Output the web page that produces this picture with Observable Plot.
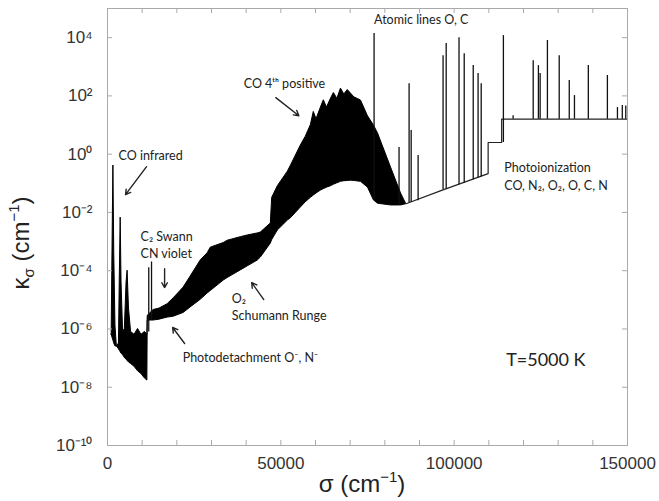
<!DOCTYPE html>
<html><head><meta charset="utf-8">
<script src="https://cdn.jsdelivr.net/npm/d3@7"></script>
<script src="https://cdn.jsdelivr.net/npm/@observablehq/plot@0.6"></script>
<style>body{margin:0;background:#fff}</style>
</head><body><div id="chart"></div>
<script>
// ---- Data. Absorption values given as log10(kappa [cm^-1]) ----
// Dense molecular band region: lower and upper envelopes
const bandSigma = [1200,1450,1700,1950,2300,2700,3300,3550,3800,4050,4500,5000,5500,5800,6200,6800,7800,8800,9800,10800,11500,
  11600,13300,15000,17340,19070,21960,23990,26880,28900,29770,33520,34680,38440,40460,43350,44220,47110,47500,49130,52020,52890,
  55780,57200,58670,59500,60300,61560,62400,63300,64450,65300,66300,67340,68300,69300,70230,71200,73120,75140,76870,78030,81790,84680,86120];
const bandLowExp = [-6.2,-6.3,-6.4,-6.5,-6.6,-6.6,-6.7,-6.75,-6.8,-6.85,-6.9,-7.0,-7.05,-7.1,-7.15,-7.2,-7.3,-7.45,-7.55,-7.7,-7.77,
  -5.71,-5.71,-5.68,-5.61,-5.58,-5.45,-5.26,-5.0,-4.78,-4.7,-4.34,-4.25,-3.99,-3.85,-3.65,-3.55,-3.07,-2.95,-2.62,-2.28,-2.2,
  -1.83,-1.65,-1.5,-1.42,-1.35,-1.25,-1.2,-1.15,-1.1,-1.05,-1.0,-0.95,-0.93,-0.92,-0.91,-0.92,-0.95,-1.15,-1.59,-1.7,-1.76,-1.76,-1.72];
const bandHighExp = [-6.2,-3.2,-0.39,-3.4,-5.9,-6.6,-6.5,-4.2,-2.18,-4.4,-6.1,-6.0,-4.4,-4.0,-5.3,-6.1,-6.2,-6.0,-6.2,-6.1,-6.2,
  -5.55,-5.35,-5.3,-5.15,-4.95,-4.58,-4.2,-3.65,-3.4,-3.21,-3.05,-2.97,-2.85,-2.79,-2.72,-2.69,-2.38,-1.5,-1.1,-0.6,-0.4,
  0.3,0.6,1.0,1.45,1.2,1.6,1.85,1.6,1.9,2.1,1.9,2.25,2.05,2.2,2.08,1.95,1.84,1.3,0.98,0.71,-0.46,-1.35,-1.70];

// Photoionization continuum
const contSigma = [86120,96200,109800,109800,113700,113700,150000];
const contExp   = [-1.70,-1.25,-0.67,0.40,0.40,1.2,1.2];

// Individual lines (atomic O, C lines and a few C2 Swan lines)
const lineSigma   = [11900,12700,76900,84100,87000,87600,89600,96800,97700,101400,102900,105500,106900,107800,114200,117000,
  122800,124300,124800,126900,130300,133200,134700,138700,144200,147100,148500,149500];
const lineBaseExp = [-6.1,-5.7,-1.6,-1.75,-1.68,-1.66,-1.6,-1.22,-1.2,-1.05,-1.0,-0.88,-0.82,-0.78,0.4,1.2,
  1.2,1.2,1.2,1.2,1.2,1.2,1.2,1.2,1.2,1.2,1.2,1.2];
const lineTopExp  = [-3.9,-3.7,4.14,0.23,2.42,0.81,-0.05,3.38,3.80,4.00,3.45,3.04,2.77,2.42,4.07,1.32,
  3.21,3.04,2.77,3.90,3.38,2.53,2.01,3.04,2.70,1.60,1.67,1.65];

// Annotations
const labelText  = ["CO infrared","CO 4ᵗʰ positive","Atomic lines O, C","C₂ Swann","CN violet","O₂","Schumann Runge",
  "Photodetachment O⁻, N⁻","Photoionization","CO, N₂, O₂, O, C, N"];
const labelSigma = [3180,39300,76900,9540,9540,35840,35840,21680,114440,114440];
const labelExp   = [-0.05,2.42,4.62,-2.83,-3.41,-4.96,-5.54,-6.98,-0.46,-1.08];
const tempText = "T=5000 K", tempSigma = 115000, tempExp = -7.08;

const arrowFromSigma = [11270,48550,16470,45080,22250];
const arrowFromExp   = [-0.43,1.94,-3.93,-4.99,-6.5];
const arrowToSigma   = [5200,55200,16470,41600,18790];
const arrowToExp     = [-1.39,1.32,-4.58,-4.41,-5.95];

const xTickValues = [0,50000,100000,150000];
const xMinorTicks = d3.range(0,150001,10000);
const yTickValues = [1e-10,1e-8,1e-6,1e-4,1e-2,1e0,1e2,1e4];

// ---- Build tables ----
const P = e => Math.pow(10,e);
const band = bandSigma.map((s,i)=>({s, lo:P(bandLowExp[i]), hi:P(bandHighExp[i])}));
const cont = contSigma.map((s,i)=>({s, k:P(contExp[i])}));
const lines = lineSigma.map((s,i)=>({s, b:P(lineBaseExp[i]), t:P(lineTopExp[i])}));
const labels = labelText.map((t,i)=>({t, s:labelSigma[i], k:P(labelExp[i])}));
const arrows = arrowFromSigma.map((s,i)=>({x1:s, y1:P(arrowFromExp[i]), x2:arrowToSigma[i], y2:P(arrowToExp[i])}));

const supMap = {"-":"⁻","0":"⁰","1":"¹","2":"²","3":"³","4":"⁴","5":"⁵","6":"⁶","7":"⁷","8":"⁸","9":"⁹"};
const sup = d => "10" + String(Math.round(Math.log10(d))).split("").map(c=>supMap[c]).join("");

const W = 659, H = 501, mL = 107, mR = 32, mT = 8, mB = 56;
const pw = W-mL-mR, ph = H-mT-mB;
const frameColor = "#aaa";
const annFont = "Lato, 'Open Sans', sans-serif";

const svg = Plot.plot({
  width: W, height: H,
  marginLeft: mL, marginRight: mR, marginTop: mT, marginBottom: mB,
  style: {fontFamily: "'Liberation Sans', Arial, sans-serif", fontSize: "17px", color: "#333", background: "#fff"},
  x: {domain: [0,150000], ticks: xTickValues, tickSize: 0, tickPadding: 11, tickFormat: d => String(d), label: null},
  y: {type: "log", domain: [1e-10,1e5], ticks: yTickValues, tickSize: 0, tickPadding: 15, tickFormat: sup, label: null},
  marks: [
    Plot.areaY(band, {x:"s", y1:"lo", y2:"hi", fill:"#000", stroke:"#000", strokeWidth:1, curve:"linear"}),
    Plot.line(cont, {x:"s", y:"k", stroke:"#222", strokeWidth:1.2}),
    Plot.ruleX(lines, {x:"s", y1:"b", y2:"t", stroke:"#111", strokeWidth:1.3}),
    Plot.frame({stroke: frameColor}),
    Plot.ruleX(xMinorTicks, {x: d=>d, insetTop: ph-5, stroke: frameColor}),
    Plot.ruleX(xMinorTicks, {x: d=>d, insetBottom: ph-5, stroke: frameColor}),
    Plot.ruleY(yTickValues, {y: d=>d, insetRight: pw-5, stroke: frameColor}),
    Plot.ruleY(yTickValues, {y: d=>d, insetLeft: pw-5, stroke: frameColor}),
    Plot.arrow(arrows, {x1:"x1", y1:"y1", x2:"x2", y2:"y2", stroke:"#222", strokeWidth:1.4, headLength:6}),
    Plot.text(labels, {x:"s", y:"k", text:"t", textAnchor:"start", fontSize:12.5, fontFamily:annFont, fill:"#222"}),
    Plot.text([tempText], {x: tempSigma, y: P(tempExp), text: d=>d, textAnchor:"start", fontSize:18, fontFamily:annFont, fill:"#222"})
  ]
});

// axis titles with sub/superscripts
const s = d3.select(svg);
const xl = s.append("text").attr("x", 362).attr("y", 492).attr("text-anchor","middle")
  .attr("font-family","'Liberation Sans', Arial, sans-serif").attr("font-size", 24).attr("fill","#222");
xl.append("tspan").text("σ (cm");
xl.append("tspan").attr("font-size",15).attr("dy",-10).text("−1");
xl.append("tspan").attr("dy",10).text(")");

const yl = s.append("text").attr("transform","translate(29,243) rotate(-90)").attr("text-anchor","middle")
  .attr("font-family","'Liberation Sans', Arial, sans-serif").attr("font-size", 24).attr("fill","#222");
yl.append("tspan").text("κ");
yl.append("tspan").attr("font-size",15).attr("dy",5).text("σ");
yl.append("tspan").attr("dy",-5).text(" (cm");
yl.append("tspan").attr("font-size",15).attr("dy",-10).text("−1");
yl.append("tspan").attr("dy",10).text(")");

document.getElementById("chart").appendChild(svg);
</script>
</body></html>
